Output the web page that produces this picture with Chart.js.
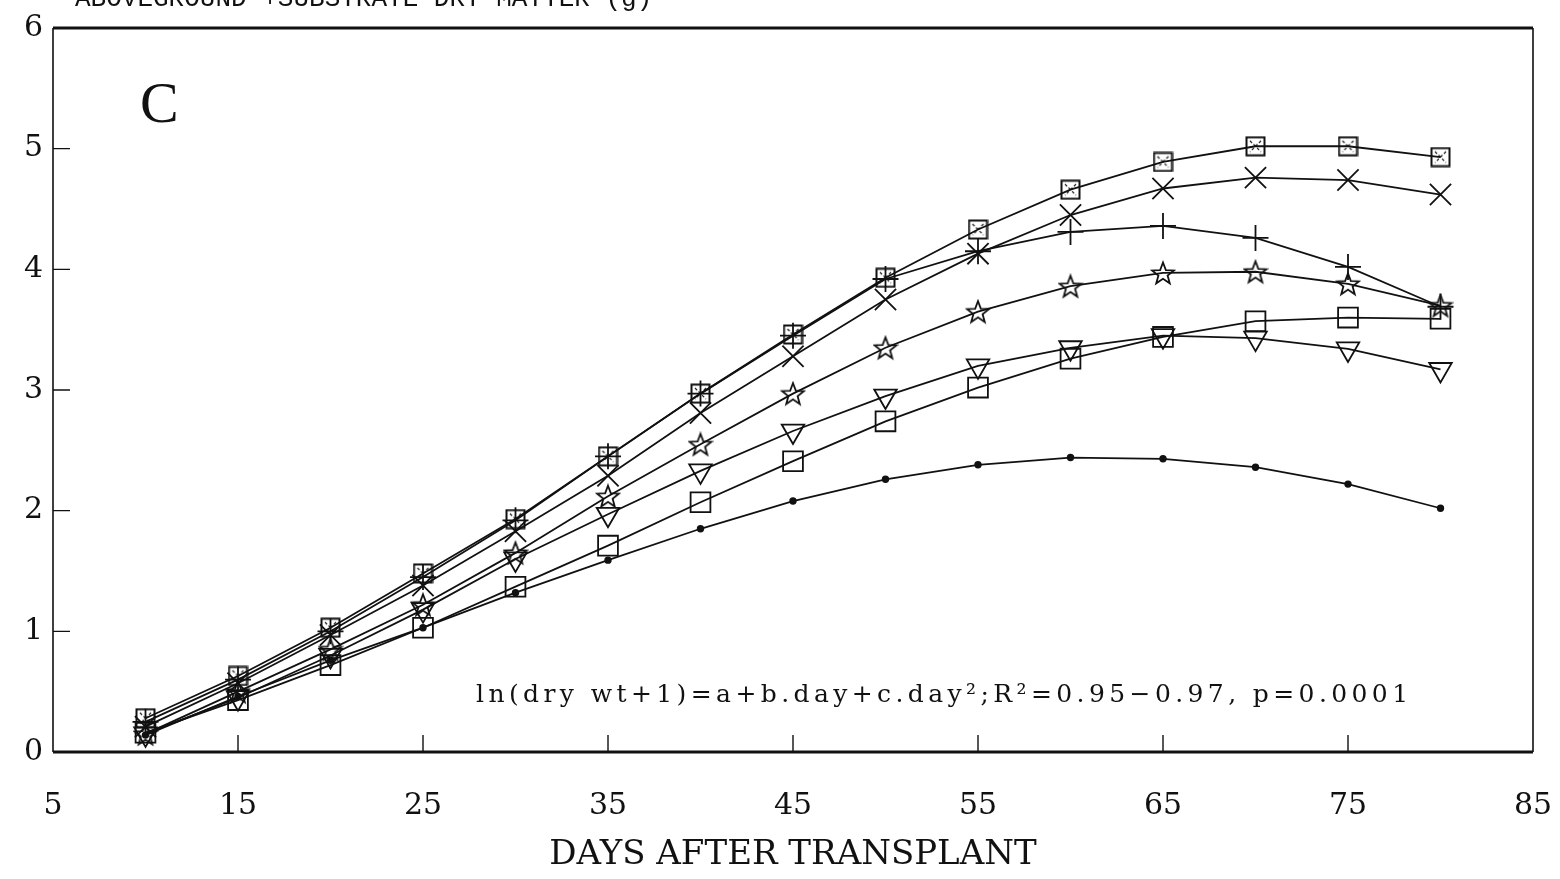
<!DOCTYPE html>
<html>
<head>
<meta charset="utf-8">
<script src="https://cdn.jsdelivr.net/npm/chart.js@4.4.0/dist/chart.umd.min.js"></script>
<style>
  html, body { margin: 0; padding: 0; background: #fff; }
  canvas { display: block; }
</style>
</head>
<body>
<canvas id="growth" width="1560" height="879"></canvas>
<script>
// data (days after transplant vs dry matter, g)
const days = [10, 15, 20, 25, 30, 35, 40, 45, 50, 55, 60, 65, 70, 75, 80];
const xTicks = [5, 15, 25, 35, 45, 55, 65, 75, 85];
const yTicks = [0, 1, 2, 3, 4, 5, 6];

const boxedVals  = [0.28, 0.63, 1.03, 1.48, 1.93, 2.45, 2.97, 3.46, 3.93, 4.33, 4.66, 4.89, 5.02, 5.02, 4.93];
const crossXVals = [0.21, 0.57, 0.97, 1.38, 1.83, 2.29, 2.81, 3.28, 3.75, 4.13, 4.45, 4.67, 4.76, 4.74, 4.62];
const plusVals   = [0.25, 0.60, 1.00, 1.45, 1.92, 2.45, 2.97, 3.45, 3.92, 4.15, 4.31, 4.36, 4.26, 4.02, 3.69];
const starVals   = [0.15, 0.50, 0.85, 1.22, 1.65, 2.12, 2.55, 2.97, 3.35, 3.65, 3.86, 3.97, 3.98, 3.88, 3.70];
const triVals    = [0.15, 0.45, 0.80, 1.18, 1.60, 1.97, 2.33, 2.66, 2.95, 3.20, 3.35, 3.45, 3.43, 3.34, 3.17];
const squareVals = [0.16, 0.43, 0.72, 1.03, 1.37, 1.71, 2.07, 2.41, 2.74, 3.02, 3.26, 3.44, 3.57, 3.60, 3.59];
const dotVals    = [0.14, 0.46, 0.76, 1.03, 1.32, 1.59, 1.85, 2.08, 2.26, 2.38, 2.44, 2.43, 2.36, 2.22, 2.02];

const INK = '#111';

// marker images
function makeStar(size) {
  const c = document.createElement('canvas');
  c.width = size; c.height = size;
  const g = c.getContext('2d');
  const cx = size / 2, cy = size / 2 + 1;
  const ro = size / 2 - 1.5, ri = ro * 0.42;
  g.beginPath();
  for (let i = 0; i < 10; i++) {
    const r = i % 2 === 0 ? ro : ri;
    const a = -Math.PI / 2 + i * Math.PI / 5;
    const px = cx + r * Math.cos(a), py = cy + r * Math.sin(a);
    if (i === 0) g.moveTo(px, py); else g.lineTo(px, py);
  }
  g.closePath();
  g.strokeStyle = INK;
  g.lineWidth = 1.8;
  g.stroke();
  return c;
}

function makeBoxX(size) {
  const c = document.createElement('canvas');
  c.width = size; c.height = size;
  const g = c.getContext('2d');
  g.strokeStyle = INK;
  g.lineWidth = 2;
  g.strokeRect(1.5, 1.5, size - 3, size - 3);
  g.lineWidth = 1.2;
  g.setLineDash([3, 2]);
  g.beginPath();
  g.moveTo(5, 5); g.lineTo(size - 5, size - 5);
  g.moveTo(size - 5, 5); g.lineTo(5, size - 5);
  g.stroke();
  return c;
}

const starImg = makeStar(26);
const boxImg = makeBoxX(21);

function series(vals, style, radius, fill) {
  return {
    data: vals,
    borderColor: INK,
    borderWidth: 1.8,
    pointStyle: style,
    pointRadius: radius,
    pointHoverRadius: radius,
    pointBorderColor: INK,
    pointBorderWidth: 1.8,
    pointBackgroundColor: fill || 'rgba(0,0,0,0)',
    tension: 0,
    fill: false
  };
}

const datasets = [
  series(boxedVals, boxImg, 10),
  series(crossXVals, 'crossRot', 15),
  series(plusVals, 'cross', 13),
  series(starVals, starImg, 12),
  Object.assign(series(triVals, 'triangle', 13), { pointRotation: 180 }),
  series(squareVals, 'rect', 14),
  series(dotVals, 'circle', 2.8, INK)
];
datasets.forEach(ds => {
  ds.data = ds.data.map((v, i) => ({ x: days[i], y: v }));
});

// frame, inward ticks and texts
const decorations = {
  id: 'decorations',
  afterDraw(chart) {
    const { ctx, chartArea: a, scales } = chart;
    ctx.save();
    ctx.strokeStyle = INK;
    ctx.lineCap = 'butt';

    // frame
    ctx.lineWidth = 3;
    ctx.beginPath();
    ctx.moveTo(a.left, a.top); ctx.lineTo(a.right, a.top);
    ctx.moveTo(a.left, a.bottom); ctx.lineTo(a.right, a.bottom);
    ctx.stroke();
    ctx.lineWidth = 1.6;
    ctx.beginPath();
    ctx.moveTo(a.left, a.top); ctx.lineTo(a.left, a.bottom);
    ctx.moveTo(a.right, a.top); ctx.lineTo(a.right, a.bottom);
    ctx.stroke();

    // inward tick marks
    ctx.lineWidth = 1.4;
    ctx.beginPath();
    xTicks.slice(1, -1).forEach(v => {
      const px = scales.x.getPixelForValue(v);
      ctx.moveTo(px, a.bottom); ctx.lineTo(px, a.bottom - 17);
    });
    yTicks.slice(1, -1).forEach(v => {
      const py = scales.y.getPixelForValue(v);
      ctx.moveTo(a.left, py); ctx.lineTo(a.left + 17, py);
    });
    ctx.stroke();

    ctx.fillStyle = INK;
    // y axis title, cut off at the top of the picture
    ctx.font = '26px "Liberation Mono"';
    ctx.textAlign = 'left';
    ctx.textBaseline = 'alphabetic';
    ctx.fillText('ABOVEGROUND +SUBSTRATE DRY MATTER (g)', 75, 6);

    // panel letter
    ctx.font = '58px "Liberation Serif"';
    ctx.textBaseline = 'middle';
    ctx.fillText('C', 140, 107);

    // regression note
    ctx.font = '25px "DejaVu Serif"';
    ctx.textBaseline = 'alphabetic';
    ctx.letterSpacing = '4.4px';
    ctx.fillText('ln(dry wt+1)=a+b.day+c.day\u00B2;R\u00B2=0.95\u22120.97, p=0.0001', 476, 702);
    ctx.restore();
  }
};

new Chart(document.getElementById('growth'), {
  type: 'line',
  data: { datasets },
  options: {
    responsive: false,
    animation: false,
    layout: { padding: { top: 25, right: 27, left: 0, bottom: 0 } },
    plugins: {
      legend: { display: false },
      tooltip: { enabled: false }
    },
    scales: {
      x: {
        type: 'linear',
        min: 5,
        max: 85,
        afterBuildTicks: s => { s.ticks = xTicks.map(v => ({ value: v })); },
        afterFit: s => {
          s.height = 127;
          s.paddingLeft = 0;
          s.paddingRight = 0;
        },
        grid: { display: false, drawTicks: false },
        border: { display: false },
        ticks: {
          color: INK,
          padding: 36,
          maxRotation: 0,
          font: { family: 'DejaVu Serif', size: 30 }
        },
        title: {
          display: true,
          text: 'DAYS AFTER TRANSPLANT',
          color: INK,
          font: { family: 'DejaVu Serif', size: 34 },
          padding: { top: 0, bottom: 3 }
        }
      },
      y: {
        min: 0,
        max: 6,
        afterBuildTicks: s => { s.ticks = yTicks.map(v => ({ value: v })); },
        afterFit: s => { s.width = 53; },
        grid: { display: false, drawTicks: false },
        border: { display: false },
        ticks: {
          color: INK,
          padding: 10,
          font: { family: 'DejaVu Serif', size: 30 }
        }
      }
    }
  },
  plugins: [decorations]
});
</script>
</body>
</html>
